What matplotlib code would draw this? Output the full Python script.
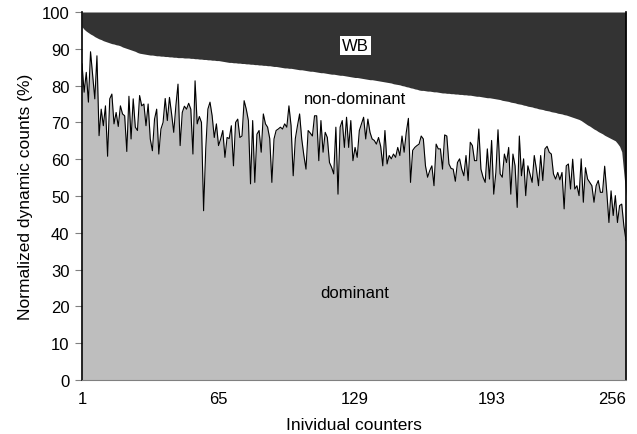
import matplotlib
matplotlib.use("Agg")
import matplotlib.pyplot as plt
import numpy as np

plt.rcParams['font.family'] = ['Liberation Sans', 'DejaVu Sans']

# dominant share per counter (%)
dominant = [
    85.9, 78.2, 83.6, 75.5, 89.2, 82.7, 76.4, 88.1, 66.4, 73.6, 69.1, 74.5, 60.8, 76.4, 77.7, 69.6,
    72.7, 68.9, 74.5, 72.3, 71.8, 62.1, 77.1, 65.5, 76.4, 68.7, 67.8, 77.3,
    74.5, 75.0, 69.1, 75.0, 65.5, 62.3, 70.9, 73.6, 61.4, 68.2, 70.0, 76.5, 70.5, 76.8, 72.3, 67.3,
    74.5, 80.4, 63.7, 72.7, 74.4, 73.6, 75.2, 73.6, 61.4, 81.3, 69.6, 71.6, 70.0, 46.0, 62.8, 73.6,
    75.5, 71.8, 65.9, 69.6, 63.7, 65.5, 67.8, 60.5, 65.9, 65.6, 69.1, 58.2,
    70.0, 70.9, 65.9, 66.3, 75.9, 73.6, 70.5, 53.3, 70.5, 53.7, 66.8, 67.8, 61.9, 72.3, 69.6, 68.7,
    65.6, 53.7, 65.5, 67.8, 68.2, 68.7, 68.2, 69.6, 68.7, 74.5, 69.1, 55.5, 65.6, 69.1, 72.3, 65.5,
    61.0, 57.3, 67.8, 67.1, 66.3, 71.8, 71.8, 59.6, 70.5, 61.9, 67.3, 65.9, 59.1,
    57.8, 56.0, 68.7, 50.5, 68.7, 70.5, 63.2, 71.4, 63.2, 70.5, 59.6, 63.2, 60.5, 67.8, 69.6, 71.4,
    65.5, 70.9, 67.3, 65.5, 65.1, 64.1, 65.9, 63.5, 58.2, 67.8, 58.7, 61.0, 60.1, 61.4, 60.5, 63.2,
    61.0, 66.3, 61.9, 67.3, 71.1, 53.7, 62.4, 63.2, 63.7, 64.1, 66.3, 65.5,
    58.2, 55.1, 56.9, 58.2, 52.8, 64.1, 62.8, 62.8, 57.3, 66.6, 66.3, 58.7, 57.5, 57.3, 54.0, 59.1,
    60.1, 57.3, 55.5, 61.0, 54.2, 64.6, 63.7, 59.6, 59.6, 68.2, 57.3, 55.1, 53.7, 62.8, 54.6, 65.1,
    50.5, 56.4, 68.0, 56.0, 55.1, 61.4, 59.1, 63.2, 50.5, 61.4, 58.2, 46.9, 66.3,
    55.5, 60.1, 50.1, 58.2, 56.0, 53.7, 61.0, 57.3, 52.8, 61.0, 54.2, 62.8, 63.5, 61.9, 61.4, 56.0,
    54.6, 56.4, 54.4, 56.4, 46.5, 58.2, 58.7, 51.9, 60.0, 51.9, 52.8, 50.1, 60.1, 48.3, 57.7, 54.6,
    53.7, 52.8, 48.3, 52.8, 54.2, 51.0, 51.0, 58.1, 51.0, 42.8, 51.4, 44.7, 50.1, 42.8, 47.4, 47.8,
    41.9, 37.9,
]

# dominant + non-dominant (%), i.e. everything below the WB band
not_wb = [
    96.0, 95.3, 94.8, 94.4, 94.0, 93.7, 93.3, 93.0, 92.7, 92.5, 92.2, 92.0, 91.8, 91.6, 91.4, 91.3,
    91.1, 91.0, 90.8, 90.5, 90.3, 90.1, 89.9, 89.7, 89.5, 89.3, 89.0, 88.8, 88.7, 88.6, 88.5, 88.4,
    88.3, 88.3, 88.2, 88.1, 88.1, 88.0, 88.0, 87.9, 87.9, 87.8, 87.8, 87.7, 87.7, 87.6, 87.6, 87.6,
    87.5, 87.5, 87.5, 87.4, 87.4, 87.3, 87.3, 87.2, 87.2, 87.1, 87.1, 87.0, 87.0, 86.9, 86.9, 86.8,
    86.8, 86.7, 86.6, 86.5, 86.4, 86.3, 86.3, 86.2, 86.2, 86.1, 86.1, 86.0, 86.0, 85.9, 85.9, 85.8,
    85.8, 85.7, 85.7, 85.6, 85.6, 85.5, 85.5, 85.4, 85.4, 85.3, 85.2, 85.2, 85.1, 85.0, 84.9, 84.8,
    84.8, 84.7, 84.7, 84.6, 84.5, 84.4, 84.3, 84.3, 84.2, 84.1, 84.0, 83.9, 83.9, 83.8, 83.7, 83.6,
    83.5, 83.5, 83.4, 83.3, 83.2, 83.1, 83.1, 83.0, 82.9, 82.8, 82.8, 82.7, 82.6, 82.5, 82.4, 82.3,
    82.2, 82.2, 82.1, 82.0, 81.9, 81.8, 81.7, 81.6, 81.6, 81.5, 81.4, 81.3, 81.2, 81.1, 81.0, 80.9,
    80.8, 80.7, 80.5, 80.4, 80.3, 80.2, 80.0, 79.9, 79.7, 79.6, 79.4, 79.3, 79.1, 79.0, 78.8, 78.7,
    78.7, 78.6, 78.5, 78.5, 78.4, 78.3, 78.3, 78.2, 78.1, 78.0, 78.0, 77.9, 77.9, 77.8, 77.8, 77.7,
    77.7, 77.6, 77.6, 77.5, 77.5, 77.4, 77.4, 77.3, 77.2, 77.1, 77.1, 77.0, 76.9, 76.8, 76.7, 76.7,
    76.6, 76.5, 76.4, 76.3, 76.2, 76.0, 75.9, 75.8, 75.7, 75.5, 75.4, 75.3, 75.1, 75.0, 74.9, 74.7,
    74.6, 74.4, 74.3, 74.2, 74.0, 73.9, 73.7, 73.6, 73.5, 73.3, 73.2, 73.1, 72.9, 72.8, 72.7, 72.5,
    72.4, 72.3, 72.1, 72.0, 71.8, 71.6, 71.4, 71.2, 71.0, 70.8, 70.5, 70.1, 69.7, 69.3, 69.0, 68.6,
    68.2, 67.9, 67.5, 67.2, 66.9, 66.5, 66.2, 65.9, 65.6, 65.3, 65.0, 64.3, 63.5, 62.0, 56.0, 50.0,
]

xticks = [1, 65, 129, 193, 256]
yticks = [0, 10, 20, 30, 40, 50, 60, 70, 80, 90, 100]

x = np.arange(1, len(dominant) + 1)

fig = plt.figure(figsize=(6.37, 4.35), dpi=100)
ax = fig.add_axes([82 / 637, 54 / 435, 544 / 637, 368 / 435])

ax.fill_between(x, 0, dominant, color='#bebebe', lw=0)
ax.fill_between(x, not_wb, 100, color='#333333', lw=0)
ax.plot(x, dominant, color='black', lw=0.8)

ax.set_xlim(1, 256)
ax.set_ylim(0, 100)
ax.set_yticks(yticks)
ax.set_xticks(xticks)
ax.set_xticklabels([str(t) for t in xticks])
ax.get_xticklabels()[-1].set_ha('right')
ax.tick_params(axis='x', length=0, pad=8, labelsize=12)
ax.tick_params(axis='y', length=5, color='#808080', width=0.8, labelsize=12, pad=4)

for s in ['left', 'right']:
    ax.spines[s].set_color('black')
    ax.spines[s].set_linewidth(1.2)
ax.spines['bottom'].set_color('#808080')
ax.spines['top'].set_visible(False)

ax.text(129, 91, 'WB', ha='center', va='center', fontsize=12,
        bbox=dict(facecolor='white', edgecolor='none', pad=1.5))
ax.text(129, 76.6, 'non-dominant', ha='center', va='center', fontsize=12)
ax.text(129, 23.9, 'dominant', ha='center', va='center', fontsize=12)

ax.set_xlabel('Inividual counters', fontsize=12.5, labelpad=8)
ax.set_ylabel('Normalized dynamic counts (%)', fontsize=12.5, labelpad=6)

fig.savefig('out.png', dpi=100)
